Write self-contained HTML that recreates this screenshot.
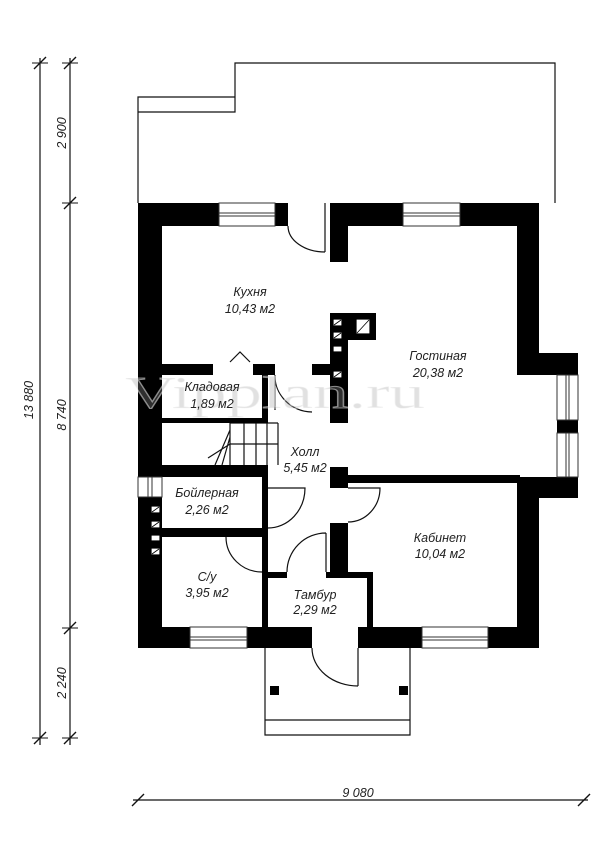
<!DOCTYPE html>
<html><head><meta charset="utf-8"><style>
html,body{margin:0;padding:0;background:#fff;}
svg{display:block;}
text{font-family:"Liberation Sans",sans-serif;font-style:italic;fill:#222;}
</style></head><body>
<svg width="600" height="848" viewBox="0 0 600 848" xmlns="http://www.w3.org/2000/svg">

<g stroke="#111" stroke-width="1.2" fill="none">
<path d="M138 203 V97 H235 V112 H138 M235 97 V63 H555 V203"/>
<path d="M265 648 V735 H410 V648 M265 720 H410"/>
<path d="M40 58 V745 M70 58 V745 M133 800 H588"/>
<path d="M34 69 L46 57 M34 744 L46 732 M64 69 L76 57 M64 209 L76 197 M64 634 L76 622 M64 744 L76 732 M132 806 L144 794 M578 806 L590 794" stroke-width="1.4"/>
<path d="M32 63 H48 M62 63 H78 M62 203 H78 M62 628 H78 M32 738 H48 M62 738 H78" stroke-width="1"/>
<path d="M325 203 V252 M288 226 A37 26 0 0 0 325 252"/>
<path d="M275 375 V410 M275 375 A38 36 0 0 0 312 412"/>
<path d="M230 362 L240 352 L250 362"/>
<path d="M268 488 H305 A37 40 0 0 1 268 528"/>
<path d="M348 488 H380 A32 34 0 0 1 348 522"/>
<path d="M326 533 V572 M326 533 A39 39 0 0 0 287 572"/>
<path d="M226 537 A36 35 0 0 0 262 572"/>
<path d="M358 648 V686 M312 648 A46 38 0 0 0 358 686"/>
<path d="M230 423 V465 M244 423 V465 M256 423 V465 M267 423 V465 M278 423 V465 M230 444 H278 M230 423 H278 M230 430 L215 465 M230 437 L222 465 M230 444 L208 458"/>
</g>

<g fill="#000">
<rect x="138" y="203" width="81" height="23"/>
<rect x="275" y="203" width="13" height="23"/>
<rect x="330" y="203" width="73" height="23"/>
<rect x="460" y="203" width="79" height="23"/>
<rect x="330" y="203" width="18" height="59"/>
<rect x="138" y="203" width="24" height="274"/>
<rect x="138" y="497" width="24" height="151"/>
<rect x="517" y="203" width="22" height="172"/>
<rect x="517" y="353" width="61" height="22"/>
<rect x="557" y="420" width="21" height="13"/>
<rect x="517" y="477" width="61" height="21"/>
<rect x="517" y="477" width="22" height="171"/>
<rect x="138" y="627" width="52" height="21"/>
<rect x="247" y="627" width="65" height="21"/>
<rect x="358" y="627" width="64" height="21"/>
<rect x="488" y="627" width="51" height="21"/>
<rect x="330" y="313" width="18" height="110"/>
<rect x="330" y="313" width="46" height="27"/>
<rect x="162" y="364" width="51" height="11"/>
<rect x="253" y="364" width="22" height="11"/>
<rect x="312" y="364" width="18" height="11"/>
<rect x="262" y="364" width="6" height="58"/>
<rect x="162" y="418" width="106" height="5"/>
<rect x="138" y="465" width="130" height="12"/>
<rect x="262" y="465" width="6" height="72"/>
<rect x="162" y="528" width="106" height="9"/>
<rect x="330" y="467" width="18" height="21"/>
<rect x="330" y="475" width="190" height="8"/>
<rect x="330" y="523" width="18" height="55"/>
<rect x="262" y="537" width="6" height="90"/>
<rect x="262" y="572" width="25" height="6"/>
<rect x="326" y="572" width="47" height="6"/>
<rect x="367" y="572" width="6" height="55"/>
<rect x="270" y="686" width="9" height="9"/>
<rect x="399" y="686" width="9" height="9"/>
</g>

<g fill="#fff" stroke="#fff" stroke-width="0.8">
<rect x="334" y="320" width="7" height="5"/><rect x="334" y="333" width="7" height="5"/>
<rect x="334" y="347" width="7" height="4"/><rect x="334" y="372" width="7" height="5"/>
<rect x="357" y="320" width="12" height="13"/>
<rect x="152" y="507" width="7" height="5"/><rect x="152" y="522" width="7" height="5"/>
<rect x="152" y="536" width="7" height="4"/><rect x="152" y="549" width="7" height="5"/>
</g>
<g stroke="#000" stroke-width="0.8">
<path d="M334 325 L341 320 M334 338 L341 333 M357 333 L369 320 M334 377 L341 372 M152 512 L159 507 M152 527 L159 522 M152 554 L159 549"/>
</g>

<g fill="none" stroke="#333" stroke-width="1">
<rect x="219" y="203" width="56" height="23"/><path d="M219 213 H275 M219 216 H275"/>
<rect x="403" y="203" width="57" height="23"/><path d="M403 213 H460 M403 216 H460"/>
<rect x="557" y="375" width="21" height="45"/><path d="M566 375 V420 M569 375 V420"/>
<rect x="557" y="433" width="21" height="44"/><path d="M566 433 V477 M569 433 V477"/>
<rect x="138" y="477" width="24" height="20"/><path d="M148 477 V497 M152 477 V497"/>
<rect x="190" y="627" width="57" height="21"/><path d="M190 637 H247 M190 640 H247"/>
<rect x="422" y="627" width="66" height="21"/><path d="M422 637 H488 M422 640 H488"/>
</g>

<!-- watermark on top -->
<text x="125" y="408" textLength="300" lengthAdjust="spacingAndGlyphs" font-size="46" style="font-family:'Liberation Serif',serif;font-style:normal;fill:#9a9a9a;fill-opacity:0.3;stroke:#fff;stroke-opacity:0.5;stroke-width:1">Vipplan.ru</text>

<g font-size="12.5" text-anchor="middle">
<text x="250" y="296">Кухня</text><text x="250" y="313">10,43 м2</text>
<text x="438" y="360">Гостиная</text><text x="438" y="377">20,38 м2</text>
<text x="212" y="391">Кладовая</text><text x="212" y="408">1,89 м2</text>
<text x="305" y="456">Холл</text><text x="305" y="472">5,45 м2</text>
<text x="207" y="497">Бойлерная</text><text x="207" y="514">2,26 м2</text>
<text x="440" y="542">Кабинет</text><text x="440" y="558">10,04 м2</text>
<text x="207" y="581">С/у</text><text x="207" y="597">3,95 м2</text>
<text x="315" y="599">Тамбур</text><text x="315" y="614">2,29 м2</text>
<text x="358" y="797">9 080</text>
<text transform="translate(33,400) rotate(-90)">13 880</text>
<text transform="translate(66,415) rotate(-90)">8 740</text>
<text transform="translate(66,133) rotate(-90)">2 900</text>
<text transform="translate(66,683) rotate(-90)">2 240</text>
</g>
</svg>
</body></html>
